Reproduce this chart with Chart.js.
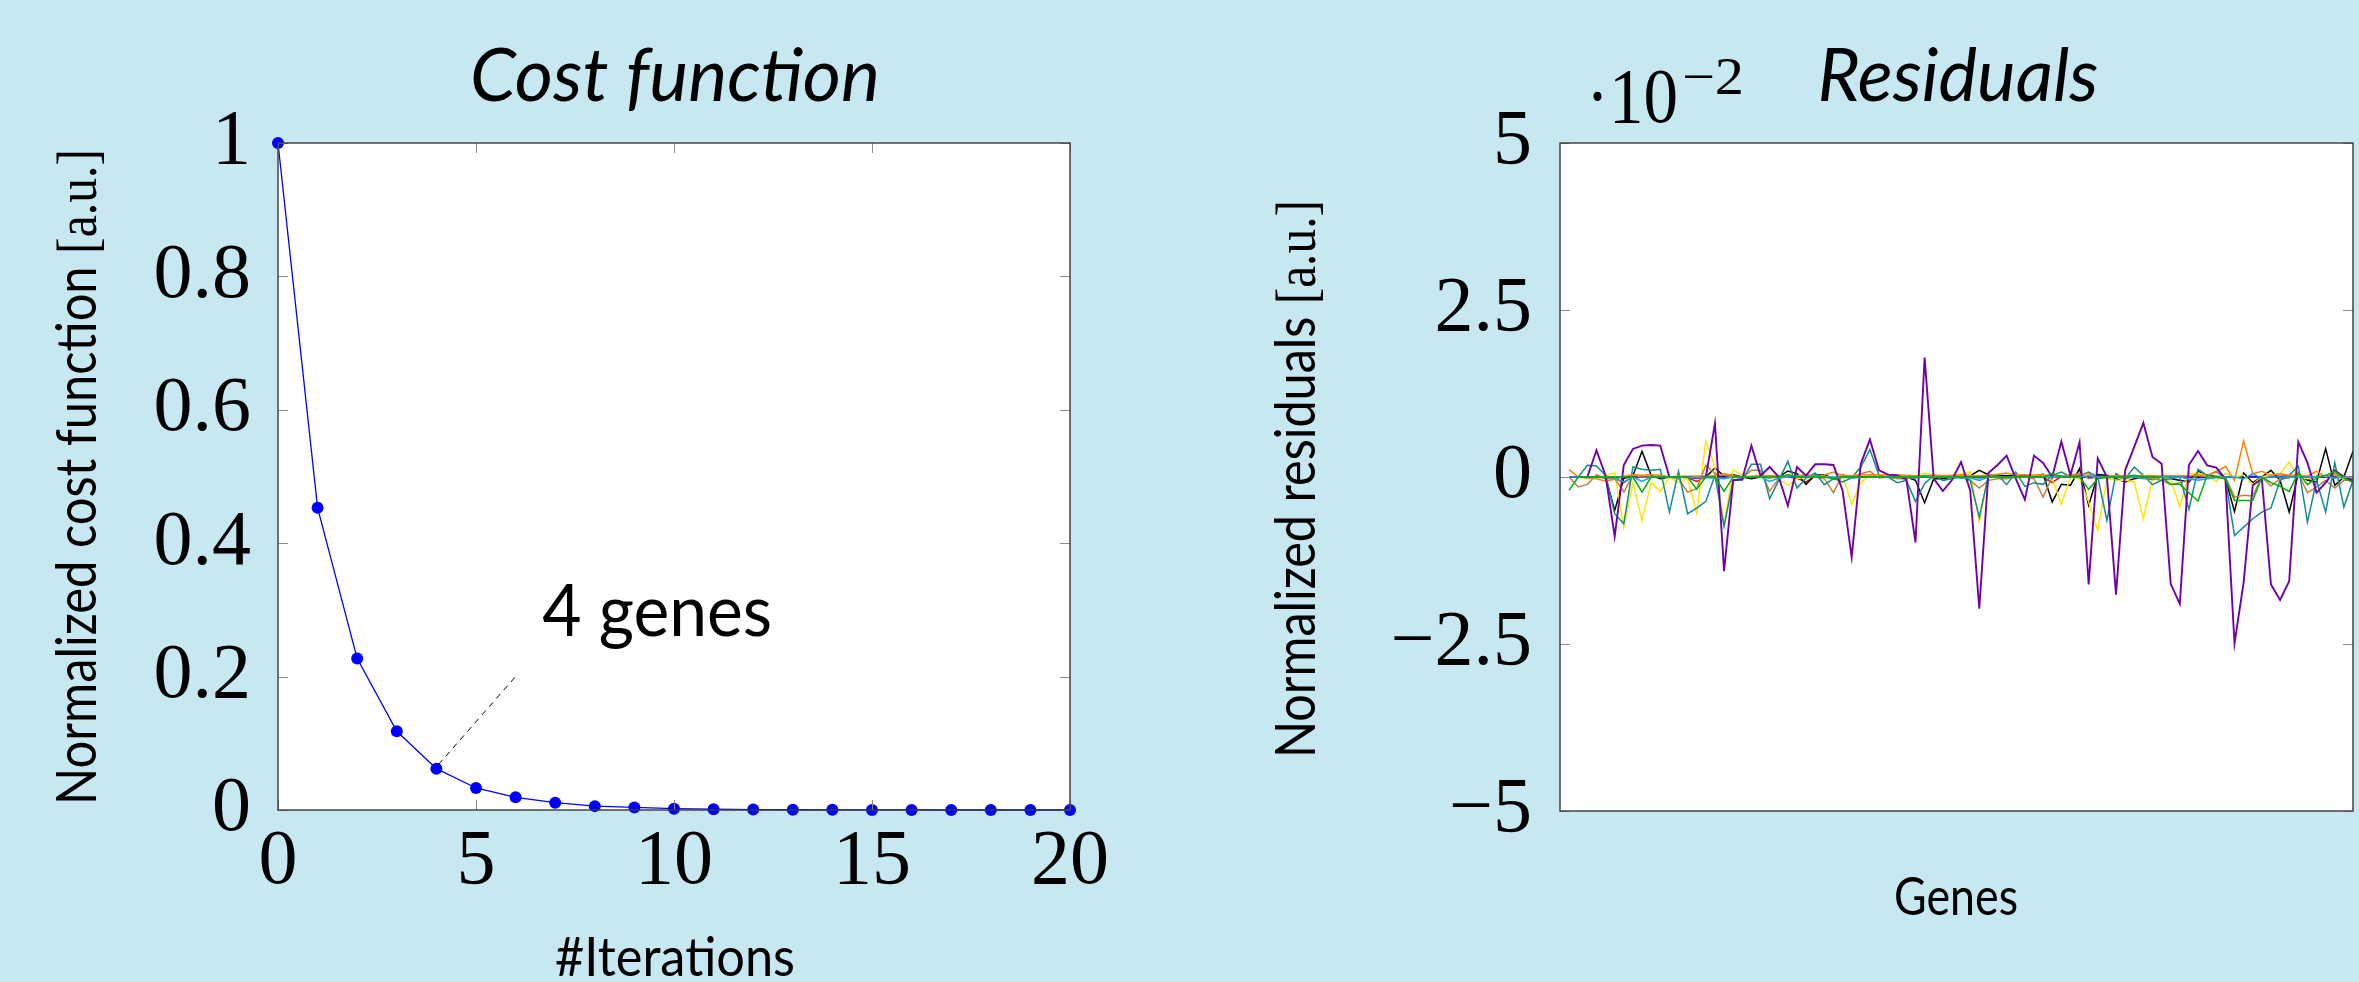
<!DOCTYPE html>
<html>
<head>
<meta charset="utf-8">
<script src="https://cdn.jsdelivr.net/npm/chart.js@4.4.1/dist/chart.umd.min.js"></script>
<style>
  html, body { margin: 0; padding: 0; background: #c7e8f0; }
  #wrap { position: relative; width: 2359px; height: 982px; overflow: hidden; }
  canvas { position: absolute; top: 0; }
  #costChart { left: 0; }
  #resChart { left: 1180px; }
</style>
</head>
<body>
<div id="wrap">
  <canvas id="costChart" width="1180" height="982"></canvas>
  <canvas id="resChart" width="1179" height="982"></canvas>
</div>
<script>
// ---- cost function data
const iterations = [0, 1, 2, 3, 4, 5, 6, 7, 8, 9, 10, 11, 12, 13, 14, 15, 16, 17, 18, 19, 20];
const cost = [1, 0.453, 0.227, 0.118, 0.062, 0.033, 0.019, 0.011, 0.0058, 0.0038, 0.002,
              0.0012, 0.0007, 0.0004, 0.0002, 0.0001, 0.0001, 0, 0, 0, 0];

// ---- residuals data (values in units of 1e-2), one value per gene
const genes = Array.from({ length: 87 }, (_, i) => i + 1);

const resRed = [
  0, 0, 0, 0, -0.01, -0.02, -0.085, 0.01, 0, 0,
  0, 0, 0, -0.01, -0.065, 0, 0.01, 0.01, 0, 0,
  0, 0, 0, 0, 0, -0.02, -0.075, 0.01, 0, 0,
  0, 0, 0, 0, 0, 0, 0, 0, 0, 0,
  0, 0, 0, 0, 0, 0, 0, 0, 0, 0,
  0, 0, 0, -0.085, 0.01, 0, 0, 0, 0, 0,
  0, 0, 0, 0, 0, 0, 0, 0, 0, 0.01,
  0.02, 0.01, 0, 0, 0, 0.01, 0, 0.02, 0.01, 0.02,
  0.01, -0.04, 0.01, 0, 0.03, 0.02, -0.05];
const resBlue = [
  0, 0, 0, 0, 0, 0, -0.01, 0, 0, 0,
  0, 0, 0, 0, 0, 0, 0, 0, 0, 0,
  0, 0, -0.01, 0, 0, 0, 0, 0.01, 0, 0,
  0, 0, 0, 0, 0, 0, 0, 0, 0, 0,
  0, 0, 0, 0, 0, -0.01, 0, 0, 0, 0,
  0, 0, 0, 0, 0, 0, 0, 0, 0, 0,
  0, 0, 0, 0, 0, 0, 0, 0, 0, -0.01,
  0, 0, 0, 0, 0, 0, 0, 0, 0, 0,
  0, 0, 0, 0, 0, 0, 0];
const resBlack = [
  0, 0, 0, 0, 0, -0.50, -0.02, 0.02, 0.385, 0.025,
  -0.025, 0, 0, 0, 0, 0, 0.135, 0.015, 0.035, 0,
  -0.025, 0, 0, 0, 0.09, 0.05, -0.11, 0.035, 0.035, -0.025,
  0, 0, 0, 0, 0, 0, 0, 0, -0.05, -0.385,
  -0.025, -0.025, 0, 0.025, 0.02, 0.10, 0.035, 0.025, 0.02, 0.02,
  0.02, 0.02, 0.04, -0.375, -0.11, -0.125, 0.125, -0.425, 0.035, 0.025,
  -0.025, -0.075, -0.025, 0, -0.04, 0, -0.025, -0.05, -0.075, 0.085,
  0.025, 0, -0.025, -0.515, 0.06, -0.085, 0, 0.10, -0.05, -0.525,
  0.05, -0.05, -0.075, 0.425, -0.125, 0, 0.385];
const resYellow = [
  0, 0, -0.02, -0.015, 0.025, 0.06, -0.75, -0.085, -0.65, -0.085,
  -0.215, 0, -0.085, -0.025, -0.54, 0.535, 0.15, -0.70, 0.11, 0.025,
  0, 0.025, 0, -0.025, -0.125, -0.025, 0, 0, 0, 0,
  0.025, -0.41, -0.085, 0.025, 0, 0, 0, 0, 0, 0.06,
  0.025, 0, 0, 0.05, 0.075, -0.665, 0.025, 0, 0, -0.02,
  0, 0.02, 0.025, -0.025, -0.41, 0, -0.025, -0.375, -0.80, -0.025,
  -0.05, -0.05, -0.075, -0.625, -0.025, 0, -0.025, -0.45, 0.05, 0.06,
  0.025, -0.065, 0.05, 0, 0.025, -0.11, 0, 0.025, 0.05, 0.225,
  0, -0.025, 0, 0.025, 0.035, -0.025, -0.025];
const resBrown = [
  0, -0.15, -0.11, 0.035, -0.025, -0.025, -0.225, 0.025, 0, 0,
  0, 0, -0.025, -0.225, -0.175, 0.175, 0.05, 0.025, 0, 0,
  0.10, 0.10, -0.215, -0.025, 0.025, 0, 0, 0, -0.025, -0.235,
  0.035, 0, 0.05, 0.085, -0.015, 0, -0.025, -0.025, 0, 0,
  0, 0, 0, 0, -0.05, -0.165, -0.05, -0.025, -0.025, 0,
  0, -0.025, -0.30, 0, 0, 0.025, 0.05, -0.025, 0, -0.015,
  0, -0.025, 0, -0.025, -0.025, -0.05, -0.115, -0.085, -0.05, 0.025,
  0, 0, 0, -0.30, -0.275, -0.285, 0, -0.135, -0.025, -0.015,
  0.05, -0.235, -0.15, -0.05, -0.165, -0.05, -0.05];
const resTeal = [
  0, 0, 0.175, 0.165, 0.025, -0.55, -0.70, 0.15, 0.115, 0.10,
  0.115, -0.525, 0.085, -0.55, -0.465, -0.365, 0.025, -0.74, -0.05, -0.05,
  0.19, 0.19, -0.325, -0.05, 0.235, -0.165, -0.015, 0.06, -0.115, -0.025,
  -0.075, -0.015, 0.15, 0.41, 0.025, 0, -0.085, -0.05, -0.365, -0.10,
  0.025, -0.05, -0.025, 0.01, -0.05, -0.60, 0.025, 0.035, -0.115, 0.075,
  -0.14, -0.085, -0.11, 0.025, 0.075, 0.01, 0.025, 0.075, 0, -0.65,
  0.05, -0.025, 0.15, 0.025, -0.115, -0.05, -0.025, 0, -0.485, 0.115,
  0.025, 0.085, -0.025, -0.875, -0.75, -0.625, -0.525, -0.465, -0.05, 0.025,
  0.165, -0.675, -0.05, -0.525, 0.215, -0.45, -0.05];
const resOrange = [
  0.11, 0, -0.015, -0.025, -0.065, -0.035, 0.01, 0.035, 0.025, 0.035,
  0.025, 0, 0.01, 0.01, 0.015, 0.01, 0.02, 0.05, 0.02, 0,
  0.01, 0.02, 0.02, 0.015, 0.01, 0.02, 0.03, 0.02, 0.03, 0.075,
  0.02, 0.02, 0.03, 0.035, 0.03, 0.03, 0.035, 0.025, 0.02, 0.02,
  0.03, 0.02, 0.025, 0.03, 0.02, 0.02, 0.03, 0.04, 0.06, 0.03,
  0.035, 0.03, 0.03, 0.02, 0.02, 0.03, 0.04, 0.05, -0.02, 0.01,
  0.02, 0.02, 0.02, 0.02, 0.02, 0.015, 0.02, 0.02, 0.015, 0.03,
  0.02, 0.075, 0.16, -0.05, 0.54, 0.05, 0.085, 0.025, 0.05, 0.025,
  0.025, 0.015, 0.085, 0, 0.05, 0.015, -0.015];
const resViolet = [
  0, 0, 0, 0.40, 0.02, -0.89, 0.18, 0.42, 0.47, 0.48,
  0.47, 0, 0, 0, -0.02, 0, 0.80, -1.41, -0.05, -0.03,
  0.47, 0.02, 0.15, 0, -0.43, 0.15, 0.02, 0.19, 0.19, 0.18,
  -0.20, -1.20, 0.20, 0.56, 0.10, 0.035, 0.025, -0.035, -0.98, 1.79,
  -0.025, -0.21, -0.045, 0.225, -0.20, -1.97, 0.06, 0.18, 0.32, -0.025,
  -0.34, 0.32, 0.21, 0, 0.53, 0.025, 0.52, -1.61, 0.28, 0,
  -1.76, 0.10, 0.45, 0.81, 0.30, 0.20, -1.60, -1.90, 0.18, 0.39,
  0.175, 0.14, -0.025, -2.49, -1.58, -0.125, -0.025, -1.61, -1.84, -1.56,
  0.525, 0.215, -0.235, -0.085, 0.10, 0, -0.05];
const resCyan = [
  0, 0, 0, 0, 0, -0.02, -0.075, 0, -0.065, 0,
  0, 0, 0, 0, -0.01, -0.01, -0.015, -0.025, 0, 0,
  0, 0, -0.065, -0.02, 0, 0.01, 0, 0.025, 0, 0,
  0, -0.02, 0, 0, 0, 0, 0, 0, -0.02, 0.025,
  0, 0, 0, -0.02, -0.01, -0.05, 0, 0, 0, 0,
  0, 0, 0, 0, 0.02, 0, 0, 0.02, 0, 0,
  0, 0, 0, -0.02, 0, 0, 0, 0, -0.03, -0.05,
  -0.025, -0.01, 0, 0, -0.03, 0.05, -0.02, 0, 0, 0,
  0, 0, 0, 0.02, -0.02, 0, 0];
const resGreen = [
  -0.20, 0, 0, 0, 0, 0, 0, 0, -0.225, 0,
  0, 0, 0, 0, -0.185, 0, 0, -0.215, 0, 0,
  0, 0, 0, 0, 0.035, 0, 0, 0, 0, -0.025,
  0, 0, 0, 0, 0, 0, 0, 0, 0, 0,
  0, 0, 0, 0, 0, 0, 0, 0, 0, 0,
  0, 0, 0, 0.05, 0, 0, 0, -0.185, -0.025, 0,
  0, 0, 0.025, 0, 0, 0, -0.11, -0.11, -0.235, -0.36,
  0.025, 0, -0.025, -0.35, -0.35, -0.35, 0, -0.085, -0.14, -0.215,
  0.065, -0.115, -0.015, 0.025, 0.085, -0.015, -0.085];

const residualTicks = [-5, -2.5, 0, 2.5, 5];

// series in pgfplots cycle order (later ones drawn on top)
const residualSeries = [
  { data: resRed, color: '#ff0000' },
  { data: resBlue, color: '#0000ff' },
  { data: resBlack, color: '#000000' },
  { data: resYellow, color: '#ffe600' },
  { data: resBrown, color: '#bf8040' },
  { data: resTeal, color: '#148c8c' },
  { data: resOrange, color: '#ff8000' },
  { data: resViolet, color: '#7000a8' },
  { data: resCyan, color: '#10a8e8' },
  { data: resGreen, color: '#00b000' }
];

const SERIF = '"Liberation Serif", "DejaVu Serif", serif';
const SANS = 'Lato, "Liberation Sans", "DejaVu Sans", sans-serif';

// text drawn squeezed/stretched to a measured width, centred on (x, baseline y)
function fitText(ctx, parts, x, y, width, rotate) {
  ctx.save();
  ctx.translate(x, y);
  if (rotate) ctx.rotate(-Math.PI / 2);
  let total = 0;
  parts.forEach(p => { ctx.font = p.font; p.w = ctx.measureText(p.text).width; total += p.w; });
  ctx.scale(width / total, 1);
  let cx = -total / 2;
  ctx.fillStyle = '#000';
  ctx.textBaseline = 'alphabetic';
  ctx.textAlign = 'left';
  parts.forEach(p => { ctx.font = p.font; ctx.fillText(p.text, cx, 0); cx += p.w; });
  ctx.restore();
}

function makeFrame(spec) {
  return {
    id: 'frame',
    beforeDraw(chart) {
      const { ctx, chartArea: a } = chart;
      ctx.save();
      ctx.fillStyle = '#fff';
      ctx.fillRect(a.left, a.top, a.right - a.left, a.bottom - a.top);
      ctx.restore();
    },
    afterDraw(chart) {
      const { ctx, chartArea: a, scales } = chart;
      const L = 10;
      ctx.save();
      ctx.strokeStyle = '#8c8c8c';
      ctx.lineWidth = 1;
      ctx.beginPath();
      if (spec.xTicks) {
        scales.x.ticks.forEach(t => {
          const p = Math.round(scales.x.getPixelForValue(t.value)) + 0.5;
          ctx.moveTo(p, a.bottom); ctx.lineTo(p, a.bottom - L);
          ctx.moveTo(p, a.top); ctx.lineTo(p, a.top + L);
        });
      }
      scales.y.ticks.forEach(t => {
        const p = Math.round(scales.y.getPixelForValue(t.value)) + 0.5;
        ctx.moveTo(a.left, p); ctx.lineTo(a.left + L, p);
        ctx.moveTo(a.right, p); ctx.lineTo(a.right - L, p);
      });
      ctx.stroke();
      ctx.strokeStyle = '#3a3a3a';
      ctx.lineWidth = 1.4;
      ctx.strokeRect(a.left, a.top, a.right - a.left, a.bottom - a.top);
      ctx.restore();
      if (spec.extra) spec.extra(chart);
      spec.texts.forEach(t => fitText(ctx, t.parts, t.x, t.y, t.w, t.rotate));
    }
  };
}

function axisScales(xOpts, yOpts, xHeight, yWidth) {
  const common = { grid: { display: false, drawTicks: false }, border: { display: false } };
  return {
    x: Object.assign({ type: 'linear' }, common, xOpts, { afterFit: s => { s.height = xHeight; } }),
    y: Object.assign({ type: 'linear' }, common, yOpts, { afterFit: s => { s.width = yWidth; } })
  };
}

const tickFont = { family: SERIF, size: 78 };

// ---- left chart: cost function
new Chart(document.getElementById('costChart'), {
  type: 'line',
  data: {
    labels: iterations,
    datasets: [{
      data: cost,
      borderColor: '#0000ff',
      borderWidth: 1.3,
      pointRadius: 6,
      pointBackgroundColor: '#0000ff',
      pointBorderWidth: 0,
      tension: 0,
      clip: false
    }]
  },
  options: {
    responsive: false,
    animation: false,
    devicePixelRatio: 1,
    layout: { padding: { left: 0, right: 110, top: 143, bottom: 0 } },
    plugins: { legend: { display: false }, tooltip: { enabled: false } },
    scales: axisScales(
      { min: 0, max: 20, ticks: { stepSize: 5, font: tickFont, color: '#000', padding: 6, maxRotation: 0 } },
      { min: 0, max: 1, ticks: { stepSize: 0.2, font: tickFont, color: '#000', padding: 27,
          callback: v => String(+v.toFixed(1)) } },
      172, 278)
  },
  plugins: [makeFrame({
    xTicks: true,
    extra(chart) {
      const { ctx, scales } = chart;
      ctx.save();
      ctx.strokeStyle = '#000';
      ctx.lineWidth = 1;
      ctx.setLineDash([6, 5]);
      ctx.beginPath();
      ctx.moveTo(scales.x.getPixelForValue(4.05), scales.y.getPixelForValue(0.068));
      ctx.lineTo(scales.x.getPixelForValue(6.0), scales.y.getPixelForValue(0.2));
      ctx.stroke();
      ctx.restore();
      const left = scales.x.getPixelForValue(6.67);
      fitText(ctx, [{ text: '4 genes', font: '72px ' + SANS }], left + 115, scales.y.getPixelForValue(0.261), 230);
    },
    texts: [
      { parts: [{ text: 'Cost function', font: 'italic 74px ' + SANS }], x: 675, y: 101, w: 410 },
      { parts: [{ text: 'Normalized cost function ', font: '56px ' + SANS }, { text: '[a.u.]', font: '57px ' + SERIF }],
        x: 96, y: 477, w: 656, rotate: true },
      { parts: [{ text: '#Iterations', font: '54px ' + SANS }], x: 675, y: 976, w: 240 }
    ]
  })]
});

// ---- right chart: residuals
new Chart(document.getElementById('resChart'), {
  type: 'line',
  data: {
    labels: genes,
    datasets: residualSeries.map((s, k) => ({
      data: s.data,
      borderColor: s.color,
      borderWidth: s.color === '#7000a8' ? 1.9 : 1.5,
      pointRadius: 0,
      tension: 0,
      order: residualSeries.length - k
    }))
  },
  options: {
    responsive: false,
    animation: false,
    devicePixelRatio: 1,
    layout: { padding: { left: 0, right: 6, top: 143, bottom: 0 } },
    plugins: { legend: { display: false }, tooltip: { enabled: false } },
    scales: axisScales(
      { min: 0, max: 87, ticks: { display: false } },
      { min: -5, max: 5, afterBuildTicks: s => { s.ticks = residualTicks.map(v => ({ value: v })); },
        ticks: { font: tickFont, color: '#000', padding: 28,
          callback: v => (v < 0 ? '\u2212' + (-v) : String(v)) } },
      171, 380)
  },
  plugins: [makeFrame({
    xTicks: false,
    texts: [
      { parts: [{ text: 'Residuals', font: 'italic 74px ' + SANS }], x: 778, y: 101, w: 281 },
      { parts: [{ text: '\u00B710', font: '78px ' + SERIF }], x: 452, y: 122, w: 92 },
      { parts: [{ text: '\u22122', font: '52px ' + SERIF }], x: 533, y: 94, w: 62 },
      { parts: [{ text: 'Normalized residuals ', font: '56px ' + SANS }, { text: '[a.u.]', font: '57px ' + SERIF }],
        x: 135, y: 479, w: 558, rotate: true },
      { parts: [{ text: 'Genes', font: '52px ' + SANS }], x: 776, y: 915, w: 124 }
    ]
  })]
});
</script>
</body>
</html>
